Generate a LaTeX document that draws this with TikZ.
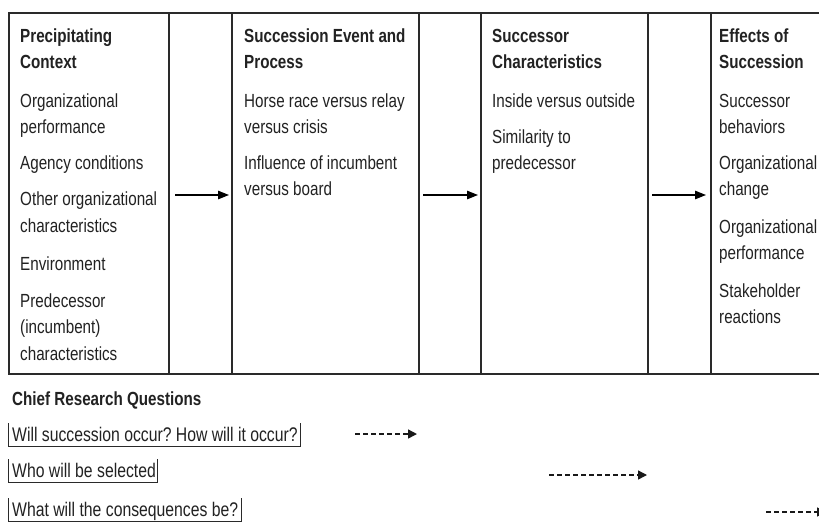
\documentclass[tikz,border=0pt]{standalone}
\usepackage{fontspec}
\setmainfont[FakeStretch=0.8]{Liberation Sans}
\usetikzlibrary{arrows.meta}
\definecolor{linec}{HTML}{2A2A2A}
\definecolor{txt}{HTML}{222222}
\frenchspacing
\begin{document}
\begin{tikzpicture}[x=1pt,y=-1pt,
  cell/.style={draw=linec, line width=1.1pt, minimum height=361pt, anchor=north west, inner sep=0pt, outer sep=0pt},
  hd/.style={anchor=base west, inner sep=0pt, text=txt, font=\bfseries\fontsize{19}{22}\selectfont},
  bd/.style={anchor=base west, inner sep=0pt, text=txt, font=\fontsize{19}{22}\selectfont},
  qtext/.style={anchor=base west, inner sep=0pt, text=txt, font=\fontsize{19.7}{22}\selectfont},
  flow/.style={draw=black, line width=1.2pt, -{Triangle[length=11pt,width=8.5pt]}},
  qflow/.style={draw=black!90, line width=1.4pt, dash pattern=on 5pt off 3pt, -{Triangle[length=9pt,width=9pt]}},
  bracket/.style={draw=linec, line width=1pt}
]
\useasboundingbox (0,0) rectangle (819,523);
\clip (0,0) rectangle (819,523);
\fill[white] (0,0) rectangle (819,523);

% table cells
\node[cell, minimum width=160pt] (c1) at (9,13) {};
\node[cell, minimum width=63pt]  (a1) at (169,13) {};
\node[cell, minimum width=187pt] (c2) at (232,13) {};
\node[cell, minimum width=62pt]  (a2) at (419,13) {};
\node[cell, minimum width=167pt] (c3) at (481,13) {};
\node[cell, minimum width=63pt]  (a3) at (648,13) {};
\node[cell, minimum width=200pt] (c4) at (711,13) {};

% column 1
\node[hd] (h1a) at (20,42) {Precipitating};
\node[hd] (h1b) at (20,68) {Context};
\node[bd] (t1a) at (20,107) {Organizational};
\node[bd] (t1b) at (20,133) {performance};
\node[bd] (t1c) at (20,169) {Agency conditions};
\node[bd] (t1d) at (20,205) {Other organizational};
\node[bd] (t1e) at (20,232) {characteristics};
\node[bd] (t1f) at (20,270) {Environment};
\node[bd] (t1g) at (20,307) {Predecessor};
\node[bd] (t1h) at (20,333) {(incumbent)};
\node[bd] (t1i) at (20,360) {characteristics};

% column 2
\node[hd] (h2a) at (244,42) {Succession Event and};
\node[hd] (h2b) at (244,68) {Process};
\node[bd] (t2a) at (244,107) {Horse race versus relay};
\node[bd] (t2b) at (244,133) {versus crisis};
\node[bd] (t2c) at (244,169) {Influence of incumbent};
\node[bd] (t2d) at (244,195) {versus board};

% column 3
\node[hd] (h3a) at (492,42) {Successor};
\node[hd] (h3b) at (492,68) {Characteristics};
\node[bd] (t3a) at (492,107) {Inside versus outside};
\node[bd] (t3b) at (492,143) {Similarity to};
\node[bd] (t3c) at (492,169) {predecessor};

% column 4
\node[hd] (h4a) at (719,42) {Effects of};
\node[hd] (h4b) at (719,68) {Succession};
\node[bd] (t4a) at (719,107) {Successor};
\node[bd] (t4b) at (719,133) {behaviors};
\node[bd] (t4c) at (719,169) {Organizational};
\node[bd] (t4d) at (719,195) {change};
\node[bd] (t4e) at (719,233) {Organizational};
\node[bd] (t4f) at (719,259) {performance};
\node[bd] (t4g) at (719,297) {Stakeholder};
\node[bd] (t4h) at (719,323) {reactions};

% flow arrows
\coordinate (f1s) at (175,195); \coordinate (f1e) at (229,195);
\coordinate (f2s) at (423,195); \coordinate (f2e) at (478,195);
\coordinate (f3s) at (652,195); \coordinate (f3e) at (706,195);
\draw[flow] (f1s) -- (f1e);
\draw[flow] (f2s) -- (f2e);
\draw[flow] (f3s) -- (f3e);

% research questions
\node[hd] (crq) at (12,405) {Chief Research Questions};
\node[qtext] (q1) at (12,441) {Will succession occur? How will it occur?};
\node[qtext] (q2) at (12,477) {Who will be selected};
\node[qtext] (q3) at (12,516) {What will the consequences be?};

\coordinate (q1tl) at (8,423); \coordinate (q1bl) at (8,446); \coordinate (q1br) at (300,446); \coordinate (q1tr) at (300,423);
\coordinate (q2tl) at (8,459); \coordinate (q2bl) at (8,482); \coordinate (q2br) at (157,482); \coordinate (q2tr) at (157,459);
\coordinate (q3tl) at (8,498); \coordinate (q3bl) at (8,521); \coordinate (q3br) at (241,521); \coordinate (q3tr) at (241,498);
\draw[bracket] (q1tl) -- (q1bl) -- (q1br) -- (q1tr);
\draw[bracket] (q2tl) -- (q2bl) -- (q2br) -- (q2tr);
\draw[bracket] (q3tl) -- (q3bl) -- (q3br) -- (q3tr);

\coordinate (d1s) at (355,434); \coordinate (d1e) at (417,434);
\coordinate (d2s) at (549,475); \coordinate (d2e) at (647,475);
\coordinate (d3s) at (766,512); \coordinate (d3e) at (826,512);
\draw[qflow] (d1s) -- (d1e);
\draw[qflow] (d2s) -- (d2e);
\draw[qflow] (d3s) -- (d3e);
\end{tikzpicture}
\end{document}
